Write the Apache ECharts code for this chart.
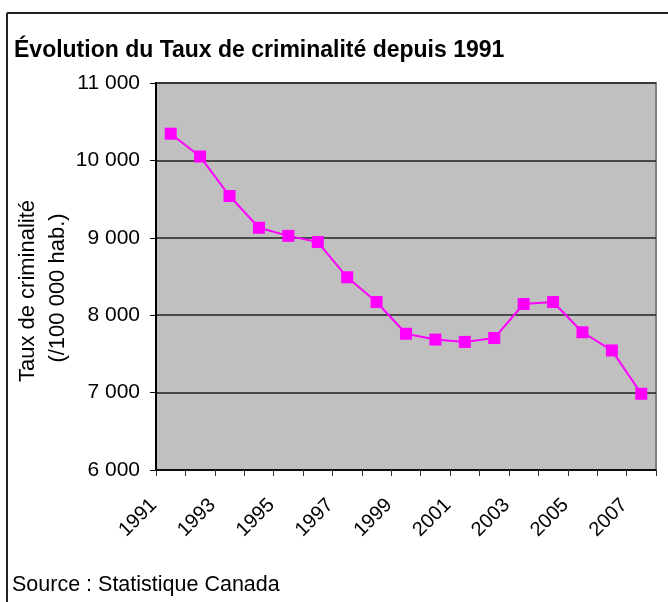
<!DOCTYPE html>
<html>
<head>
<meta charset="utf-8">
<script src="https://cdn.jsdelivr.net/npm/echarts@6/dist/echarts.min.js"></script>
<style>
html,body{margin:0;padding:0;background:#fff;}
#chart{width:668px;height:602px;}
</style>
</head>
<body>
<div id="chart"></div>
<script>
var years = ['1991','1992','1993','1994','1995','1996','1997','1998','1999','2000','2001','2002','2003','2004','2005','2006','2007'];
var crimeRate = [10345, 10050, 9540, 9130, 9025, 8945, 8490, 8170, 7760, 7685, 7655, 7705, 8145, 8170, 7780, 7545, 6985];
var yTicks = [6000, 7000, 8000, 9000, 10000, 11000];

var FONT = 'Liberation Sans, Arial, sans-serif';
function fmt(v){ return String(v).replace(/\B(?=(\d{3})+(?!\d))/g, ' '); }

var chart = echarts.init(document.getElementById('chart'), null, {renderer:'canvas'});
chart.setOption({
  animation: false,
  backgroundColor: '#ffffff',
  title: {
    text: 'Évolution du Taux de criminalité depuis 1991',
    left: 9, top: 34,
    textStyle: {fontFamily: FONT, fontSize: 23, fontWeight: 'bold', color: '#000'}
  },
  grid: {
    left: 156, right: 12, top: 83, bottom: 132,
    show: true, backgroundColor: '#C0C0C0', borderColor: '#808080', borderWidth: 2
  },
  xAxis: {
    type: 'category',
    data: years,
    boundaryGap: true,
    axisLine: {lineStyle: {color: '#000', width: 1.5}},
    axisTick: {show: true, length: 6, interval: 0, lineStyle: {color: '#333'}},
    axisLabel: {
      interval: 1, rotate: 45, margin: 15,
      padding: [0, 24, 0, 0],
      fontFamily: FONT, fontSize: 20, color: '#000'
    },
    splitLine: {show: false}
  },
  yAxis: {
    type: 'value',
    min: yTicks[0], max: yTicks[yTicks.length-1], interval: 1000,
    axisLine: {show: true, lineStyle: {color: '#000', width: 2}},
    axisTick: {show: true, length: 6, lineStyle: {color: '#000'}},
    axisLabel: {
      margin: 16, fontFamily: FONT, fontSize: 21, color: '#000',
      formatter: function(v){ return fmt(v); }
    },
    splitLine: {show: true, lineStyle: {color: '#222', width: 1.5}}
  },
  series: [{
    type: 'line',
    data: crimeRate,
    symbol: 'rect',
    symbolSize: 12,
    lineStyle: {color: '#FF00FF', width: 2},
    itemStyle: {color: '#FF00FF'},
    z: 5
  }],
  graphic: [
    {type: 'line', shape: {x1: 7, y1: 13, x2: 668, y2: 13}, style: {stroke: '#222', lineWidth: 2}},
    {type: 'line', shape: {x1: 7, y1: 13, x2: 7, y2: 602}, style: {stroke: '#222', lineWidth: 2}},
    {type: 'text', x: 28, y: 291, rotation: Math.PI/2,
      style: {text: 'Taux de criminalité', font: '22px ' + FONT, fill: '#000', textAlign: 'center', textVerticalAlign: 'middle'}},
    {type: 'text', x: 58, y: 288, rotation: Math.PI/2,
      style: {text: '(/100 000 hab.)', font: '22px ' + FONT, fill: '#000', textAlign: 'center', textVerticalAlign: 'middle'}},
    {type: 'text', x: 12, y: 585,
      style: {text: 'Source : Statistique Canada', font: '21.5px ' + FONT, fill: '#000', textAlign: 'left', textVerticalAlign: 'middle'}}
  ]
});
</script>
</body>
</html>
